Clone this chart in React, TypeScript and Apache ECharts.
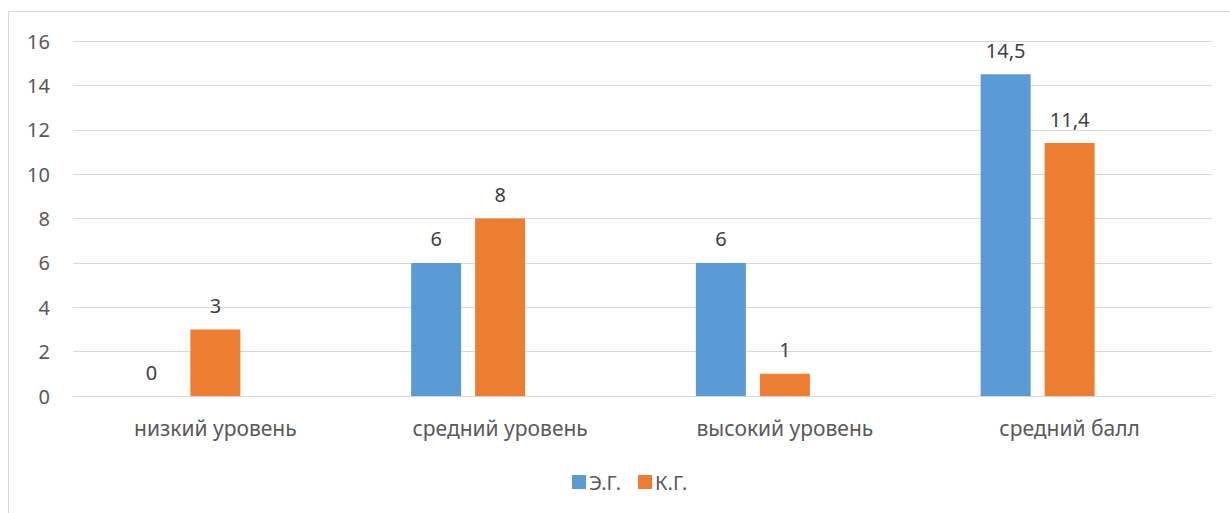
import React, { useEffect, useRef } from "react";
import * as echarts from "echarts";

const categories = ["низкий уровень", "средний уровень", "высокий уровень", "средний балл"];
const seriesEG = [0, 6, 6, 14.5];
const seriesKG = [3, 8, 1, 11.4];
const seriesEmpty = [null, null, null, null];
const yTicks = { min: 0, max: 16, interval: 2 };

const FONT = "'Noto Sans', 'Open Sans', sans-serif";
const TXT = "#595959";

export default function App() {
  const ref = useRef<HTMLDivElement>(null);
  useEffect(() => {
    if (!ref.current) return;
    const chart = echarts.init(ref.current, undefined, { renderer: "svg" });
    const fmt = (p: any) => String(p.value).replace(".", ",");
    const label = {
      show: true,
      position: "top",
      distance: 14,
      color: "#404040",
      fontSize: 20,
      fontFamily: FONT,
      formatter: fmt,
    };
    chart.setOption({
      animation: false,
      backgroundColor: "#ffffff",
      textStyle: { fontFamily: FONT },
      graphic: [
        {
          type: "rect",
          shape: { x: 8.5, y: 11.5, width: 1240, height: 520 },
          style: { fill: "none", stroke: "#D9D9D9", lineWidth: 1 },
          silent: true,
        },
      ],
      grid: { left: 73, right: 18, top: 41, bottom: 117, containLabel: false },
      legend: {
        data: ["Э.Г.", "К.Г."],
        left: 567,
        top: 467,
        itemWidth: 14,
        itemHeight: 14,
        itemGap: 17,
        icon: "rect",
        textStyle: { color: TXT, fontSize: 20, fontFamily: FONT, padding: [0, 0, 0, -2] },
      },
      xAxis: {
        type: "category",
        data: categories,
        axisLine: { show: true, lineStyle: { color: "#D9D9D9", width: 1 } },
        axisTick: { show: false },
        axisLabel: { color: TXT, fontSize: 21, fontFamily: FONT, margin: 21 },
      },
      yAxis: {
        type: "value",
        min: yTicks.min,
        max: yTicks.max,
        interval: yTicks.interval,
        axisLine: { show: false },
        axisTick: { show: false },
        splitLine: { lineStyle: { color: "#D9D9D9", width: 1 } },
        axisLabel: { color: TXT, fontSize: 20, fontFamily: FONT, margin: 23 },
      },
      series: [
        {
          name: "Э.Г.",
          type: "bar",
          data: seriesEG,
          barWidth: 50,
          barGap: "28%",
          itemStyle: { color: "#5B9BD5" },
          label,
        },
        {
          name: "К.Г.",
          type: "bar",
          data: seriesKG,
          barWidth: 50,
          barGap: "28%",
          itemStyle: { color: "#ED7D31" },
          label,
        },
        {
          name: "_empty",
          type: "bar",
          data: seriesEmpty,
          barWidth: 50,
          barGap: "28%",
          itemStyle: { color: "#A5A5A5" },
        },
      ],
    });
    return () => chart.dispose();
  }, []);
  return (
    <div
      ref={ref}
      style={{ position: "fixed", left: 0, top: 0, width: 1230, height: 513 }}
    />
  );
}
